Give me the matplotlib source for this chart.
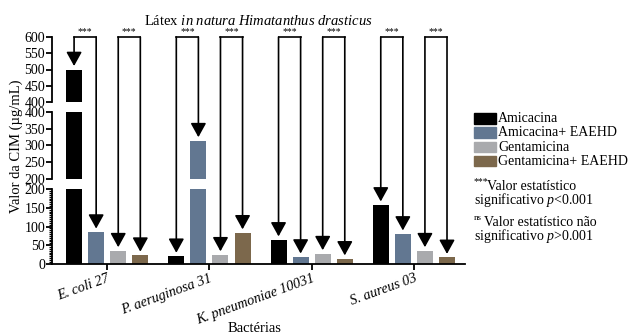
import matplotlib
matplotlib.use("Agg")
import matplotlib.pyplot as plt
import numpy as np
from matplotlib.patches import ConnectionPatch, Rectangle

plt.rcParams['font.family'] = 'Liberation Serif'
plt.rcParams['mathtext.fontset'] = 'custom'
plt.rcParams['mathtext.rm'] = 'Liberation Serif'
plt.rcParams['mathtext.it'] = 'Liberation Serif:italic'

# Data (MIC values, ug/mL)
bacteria = ["E. coli 27", "P. aeruginosa 31", "K. pneumoniae 10031", "S. aureus 03"]
treatments = ["Amicacina", "Amicacina+ EAEHD", "Gentamicina", "Gentamicina+ EAEHD"]
amicacina = [500, 20, 64, 158]
amicacina_eaehd = [85, 314, 18, 80]
gentamicina = [35, 24, 27, 35]
gentamicina_eaehd = [23, 83, 13, 17]
series = [amicacina, amicacina_eaehd, gentamicina, gentamicina_eaehd]
colors = ["#000000", "#627791", "#a9aaad", "#7c684c"]
pairs = [(0, 1), (2, 3)]
pair_labels = [["***", "***"], ["***", "***"], ["***", "***"], ["***", "***"]]

W, H = 632, 336
fig = plt.figure(figsize=(W / 100, H / 100), dpi=100)


def rect(x0, y0, x1, y1):
    return [x0 / W, 1 - y1 / H, (x1 - x0) / W, (y1 - y0) / H]


# broken y axis: three stacked segments
ax_top = fig.add_axes(rect(52, 37, 465, 102))
ax_mid = fig.add_axes(rect(52, 112, 465, 178.7))
ax_bot = fig.add_axes(rect(52, 189.3, 465, 263.7))
axes = [ax_top, ax_mid, ax_bot]
limits = [(400, 600), (200, 400), (0, 200)]

x = np.arange(len(bacteria))
offsets = np.array([-1.5, -0.5, 0.5, 1.5]) * 0.216
width = 0.157

for ax, (lo, hi) in zip(axes, limits):
    for j, vals in enumerate(series):
        ax.bar(x + offsets[j], vals, width, color=colors[j])
    ax.set_ylim(lo, hi)
    ax.set_xlim(-0.54, 3.5)
    ax.set_yticks(np.arange(lo, hi + 1, 50))
    ax.spines['top'].set_visible(False)
    ax.spines['right'].set_visible(False)
    ax.spines['left'].set_linewidth(1.3)
    ax.tick_params(axis='y', length=4, width=1.3, labelsize=10, pad=1)
    if ax is not ax_bot:
        ax.spines['bottom'].set_visible(False)
        ax.set_xticks([])

ax_bot.spines['bottom'].set_linewidth(1.3)
ax_bot.set_yticks(np.arange(0, 201, 5), minor=True)
ax_bot.tick_params(axis='y', which='minor', length=2.5, width=0.9)
ax_bot.set_xticks(x)
ax_bot.set_xticklabels(bacteria, rotation=20, ha='right', rotation_mode='anchor',
                       fontstyle='italic', fontsize=10.2)
ax_bot.tick_params(axis='x', length=4, width=1.3, pad=2)


def axis_for(v):
    if v <= 200:
        return ax_bot
    if v <= 400:
        return ax_mid
    return ax_top


# significance brackets with arrows
for g in range(len(bacteria)):
    for k, (a, b) in enumerate(pairs):
        xa, xb = g + offsets[a], g + offsets[b]
        ax_top.plot([xa, xb], [600, 600], color='k', lw=1.2, clip_on=False,
                    solid_capstyle='projecting')
        ax_top.annotate(pair_labels[g][k], ((xa + xb) / 2, 600), xytext=(0, 0.3),
                        textcoords='offset points', ha='center', va='bottom',
                        fontsize=7, annotation_clip=False)
        for j in (a, b):
            xj = g + offsets[j]
            v = series[j][g]
            con = ConnectionPatch(xyA=(xj, 600), coordsA=ax_top.transData,
                                  xyB=(xj, v), coordsB=axis_for(v).transData,
                                  arrowstyle="-|>,head_length=0.85,head_width=0.47",
                                  mutation_scale=10, shrinkA=0, shrinkB=2.5,
                                  color='k', lw=1.2)
            fig.add_artist(con)

fig.text(258 / W, 1 - 21 / H, r"Látex $\mathit{in\ natura\ Himatanthus\ drasticus}$",
         ha='center', va='center', fontsize=10.5)
fig.text(16 / W, 1 - 146 / H, "Valor da CIM (µg/mL)", rotation=90,
         ha='center', va='center', fontsize=10.5)
fig.text(255 / W, 1 - 329 / H, "Bactérias", ha='center', va='center', fontsize=10.5)

# legend
for i, (lab, c) in enumerate(zip(treatments, colors)):
    y0 = 113 + i * 14.3
    fig.patches.append(Rectangle((474 / W, 1 - (y0 + 10.5) / H), 22 / W, 10.5 / H,
                                 transform=fig.transFigure, color=c))
    fig.text(498 / W, 1 - (y0 + 5.5) / H, lab, va='center', fontsize=10)

# significance notes
fig.text(474 / W, 1 - 182 / H, "***", va='center', fontsize=7)
fig.text(487 / W, 1 - 186 / H, "Valor estatístico", va='center', fontsize=10)
fig.text(474 / W, 1 - 200 / H, r"significativo $\mathit{p}$<0.001", va='center', fontsize=10)
fig.text(474 / W, 1 - 218 / H, "ns", va='center', fontsize=6.5)
fig.text(484 / W, 1 - 222 / H, "Valor estatístico não", va='center', fontsize=10)
fig.text(474 / W, 1 - 236 / H, r"significativo $\mathit{p}$>0.001", va='center', fontsize=10)

fig.savefig("out.png", dpi=100)
